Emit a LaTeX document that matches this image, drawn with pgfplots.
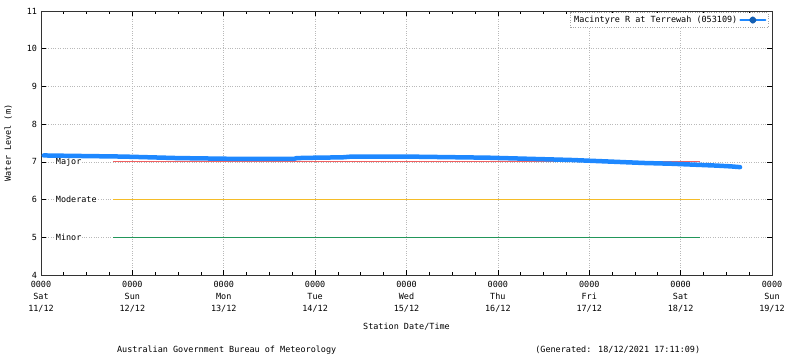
\documentclass[border=0pt]{standalone}
\usepackage{pgfplots}
\pgfplotsset{compat=1.18}
\usepackage{fontspec}
\setmainfont{DejaVu Sans Mono}
\definecolor{lvl}{RGB}{30,136,255}
\definecolor{major}{RGB}{240,96,96}
\definecolor{moderate}{RGB}{245,188,40}
\definecolor{minor}{RGB}{34,150,90}
\begin{document}
\fontsize{8.5}{10}\selectfont
\begin{tikzpicture}[x=1bp,y=1bp]
\begin{axis}[
  at={(0,0)}, anchor=south west,
  scale only axis, width=731bp, height=264bp,
  xmin=0, xmax=8, ymin=4, ymax=11,
  xtick={0,1,2,3,4,5,6,7,8},
  minor x tick num=3,
  ytick={4,5,6,7,8,9,10,11},
  xticklabels={{0000\\Sat\\11/12},{0000\\Sun\\12/12},{0000\\Mon\\13/12},{0000\\Tue\\14/12},{0000\\Wed\\15/12},{0000\\Thu\\16/12},{0000\\Fri\\17/12},{0000\\Sat\\18/12},{0000\\Sun\\19/12}},
  xticklabel style={align=center, font=\fontsize{8.5}{12}\selectfont, inner ysep=6bp},
  yticklabel style={font=\fontsize{8.5}{10}\selectfont, xshift=-1bp},
  /pgf/number format/assume math mode=true,
  tick align=inside,
  major tick length=5bp, minor tick length=3bp,
  every tick/.style={black, line width=0.7bp},
  axis line style={black!80, line width=0.9bp},
  grid=major,
  major grid style={gray!55, dotted, line width=0.7bp},
  xlabel={Station Date/Time},
  xlabel style={at={(axis description cs:0.5,0)}, anchor=center, yshift=-51.5bp},
  ylabel={Water Level (m)},
  ylabel style={at={(axis description cs:-0.045,0.5)}, anchor=center, rotate=0},
  legend style={at={(axis description cs:1,1)}, anchor=north east, xshift=-4bp, yshift=-1.5bp,
    draw=gray!70, dotted, fill=white, font=\fontsize{8.5}{10}\selectfont,
    inner sep=1.5bp, row sep=0pt},
  legend cell align=right,
  legend plot pos=right,
  clip=false,
]
% threshold lines
\addplot[major, line width=1bp, forget plot] coordinates {(0.79,7) (7.21,7)};
\addplot[moderate, line width=1bp, forget plot] coordinates {(0.79,6) (7.21,6)};
\addplot[minor, line width=1bp, forget plot] coordinates {(0.79,5) (7.21,5)};
\node[anchor=west, fill=white, inner sep=1bp] at (axis cs:0.15,7) {Major};
\node[anchor=west, fill=white, inner sep=1bp] at (axis cs:0.15,6) {Moderate};
\node[anchor=west, fill=white, inner sep=1bp] at (axis cs:0.15,5) {Minor};
% water level
\addplot[lvl, line width=4.5bp, line join=round, line cap=round,
  legend image code/.code={
    \draw[lvl, line width=2bp] (0bp,0bp) -- (25bp,0bp);
    \fill[lvl!70!black] (12.5bp,0bp) circle (1.3bp);
  }] table {
d v
0.03 7.17
0.30 7.16
0.60 7.15
0.90 7.14
1.20 7.12
1.50 7.10
1.80 7.09
2.10 7.08
2.50 7.08
2.77 7.08
2.80 7.10
3.00 7.11
3.30 7.12
3.40 7.14
3.70 7.14
4.00 7.14
4.30 7.13
4.60 7.12
4.90 7.11
5.20 7.09
5.50 7.07
5.80 7.05
6.00 7.03
6.30 7.00
6.60 6.97
6.90 6.95
7.20 6.92
7.40 6.90
7.55 6.88
7.65 6.86
};
\addlegendentry{Macintyre R at Terrewah (053109)}
\node[anchor=center] at (axis description cs:0.254,-0.284) {Australian Government Bureau of Meteorology};
\node[anchor=center] at (axis description cs:0.789,-0.284) {(Generated: 18/12/2021 17:11:09)};
\end{axis}
\pgfresetboundingbox
\path[use as bounding box] (-41bp,-83bp) rectangle (759bp,275bp);
\end{tikzpicture}
\end{document}
